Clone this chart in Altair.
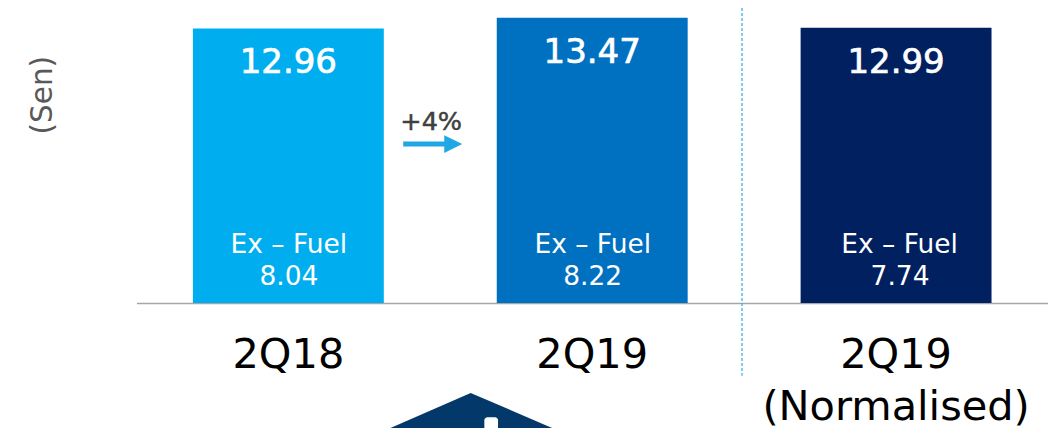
import altair as alt
import pandas as pd

FONT = "DejaVu Sans"
categories = ["2Q18", "2Q19", "2Q19|(Normalised)"]
totals = [12.96, 13.47, 12.99]
ex_fuel = [8.04, 8.22, 7.74]
colors = ["#00AEEF", "#0070C0", "#002060"]
totals_text = ["12.96", "13.47", "12.99"]
ex_fuel_text = ["8.04", "8.22", "7.74"]

df = pd.DataFrame({"cat": categories, "total": totals, "ex": ex_fuel,
                   "col": colors, "t": totals_text, "e": ex_fuel_text,
                   "lab": ["Ex – Fuel"] * 3, "zero": [0, 0, 0]})

Y_MAX = 13.92
y_scale = alt.Scale(domain=[0, Y_MAX], nice=False, zero=False)
band = alt.Scale(domain=categories, paddingInner=0.372, paddingOuter=0.186)
xband = alt.X("cat:N", scale=band, axis=None, sort=categories)
yq = alt.Y("total:Q", scale=y_scale, axis=None)
lin = alt.Scale(domain=[0, 3], nice=False, zero=False)


def xq(f):
    return alt.X(f"{f}:Q", scale=lin, axis=None)


def yy(f):
    return alt.Y(f"{f}:Q", scale=y_scale, axis=None)


bars = alt.Chart(df).mark_bar(size=191).encode(
    x=alt.X("cat:N", scale=band, sort=categories, title=None,
            axis=alt.Axis(labelExpr="split(datum.label,'|')", labelAngle=0,
                          labelFontSize=41.5, labelFont=FONT, labelColor="#000000",
                          labelLineHeight=52, labelPadding=32, ticks=False, labelLimit=500,
                          domainColor="#A6A6A6", domainWidth=1.5, labelBaseline="top")),
    y=yq,
    color=alt.Color("col:N", scale=None),
)

tot = alt.Chart(df).mark_text(font=FONT, fontSize=34, color="white", stroke="white",
                              strokeWidth=0.7, dy=35, baseline="middle").encode(
    x=xband, y=yq, text="t:N")

FIRST_TWO = "datum.col != '#002060'"
LAST = "datum.col == '#002060'"


def small(field, dy, dx, cond):
    return alt.Chart(df).transform_filter(cond).mark_text(
        font=FONT, fontSize=26.5, color="white", dy=dy, dx=dx, baseline="middle"
    ).encode(x=xband, y=yy("zero"), text=f"{field}:N")


sen = alt.Chart(pd.DataFrame({"x": [-0.306], "y": [9.81], "t": ["(Sen)"]})).mark_text(
    font=FONT, fontSize=29.5, color="#595959", angle=270, baseline="middle").encode(
    x=xq("x"), y=yy("y"), text="t:N")

divider = alt.Chart(pd.DataFrame({"x": [1.993], "y": [Y_MAX], "y2": [-3.44]})).mark_rule(
    color="#29ABE2", strokeWidth=1.2, strokeDash=[3, 2]).encode(
    x=xq("x"), y=yy("y"), y2="y2:Q")

shaft = alt.Chart(pd.DataFrame({"x": [0.878], "x2": [1.016], "y": [7.5]})).mark_rule(
    color="#1FA8E4", strokeWidth=5).encode(x=xq("x"), x2="x2:Q", y=yy("y"))
head = alt.Chart(pd.DataFrame({"x": [1.013, 1.072],
                               "y": [7.92, 7.5],
                               "y2": [7.08, 7.5]})).mark_area(color="#1FA8E4").encode(
    x=xq("x"), y=yy("y"), y2="y2:Q")
pct = alt.Chart(pd.DataFrame({"x": [0.97], "y": [8.54], "t": ["+4%"]})).mark_text(
    font=FONT, fontSize=25.5, color="#404040", stroke="#404040", strokeWidth=0.5,
    baseline="middle").encode(x=xq("x"), y=yy("y"), text="t:N")

house = alt.Chart(pd.DataFrame({"x": [0.836, 1.1, 1.368],
                                "y": [-5.9, -4.25, -5.9],
                                "y2": [-5.9, -5.9, -5.9]})).mark_area(color="#03386A").encode(
    x=xq("x"), y=yy("y"), y2="y2:Q")
door = alt.Chart(pd.DataFrame({"x": [1.145], "x2": [1.19], "y": [-5.4], "y2": [-6.2]})).mark_bar(
    color="white", cornerRadius=3).encode(x=xq("x"), x2="x2:Q", y=yy("y"), y2="y2:Q")

chart = alt.layer(
    bars, tot,
    small("lab", -58, 0.5, FIRST_TWO), small("e", -26, 0.5, FIRST_TWO),
    small("lab", -58, 3.5, LAST), small("e", -26, 4, LAST),
    sen, divider, shaft, head, pct, house, door,
).resolve_scale(
    x="independent"
).properties(
    width=912, height=295,
    padding={"left": 128.5, "top": 0, "right": 0, "bottom": 125},
    autosize=alt.AutoSizeParams(type="none"),
    background="white",
).configure_view(stroke=None)

chart.save("out.html", embed_options={"renderer": "svg", "actions": False})
